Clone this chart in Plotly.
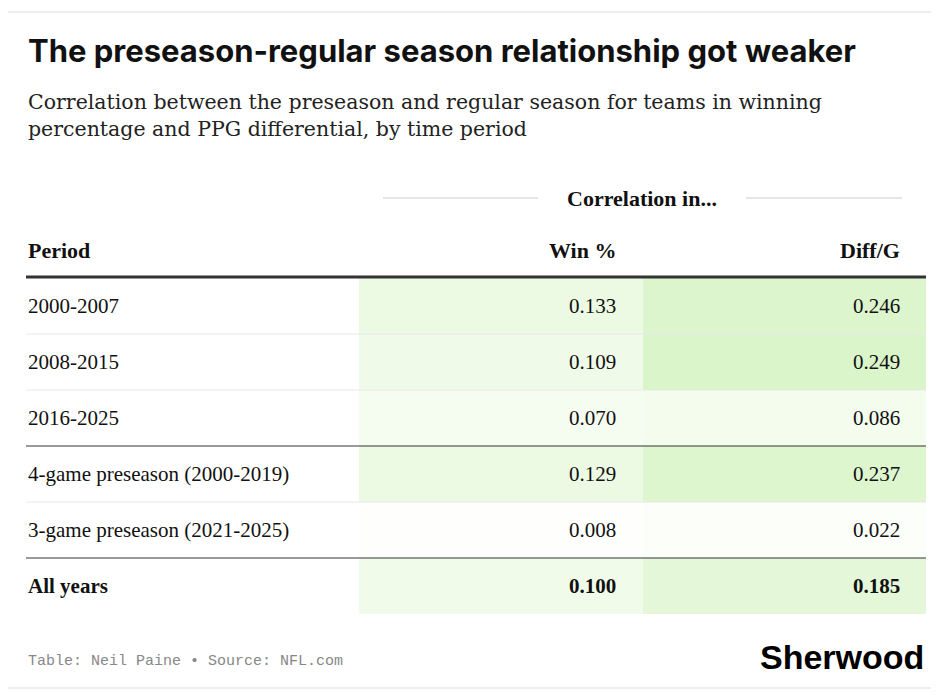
import plotly.graph_objects as go

periods = ["2000-2007", "2008-2015", "2016-2025",
           "4-game preseason (2000-2019)", "3-game preseason (2021-2025)", "All years"]
win_pct = [0.133, 0.109, 0.070, 0.129, 0.008, 0.100]
diff_g = [0.246, 0.249, 0.086, 0.237, 0.022, 0.185]
group_end = [2, 4]  # rows followed by a dark separator

W, H = 939, 695
top, rh = 278, 56
cols = [(359, 643, 618), (643, 926, 902)]
serif = "Liberation Serif"


def shade(v):
    f = min(v / 0.25, 1.0)
    r = round(255 - f * 36)
    g = round(255 - f * 10)
    b = round(255 - f * 52)
    return f"rgb({r},{g},{b})"


fig = go.Figure()
fig.add_trace(go.Scatter(x=[0], y=[0], mode="markers", marker=dict(opacity=0), hoverinfo="skip"))

shapes, ann = [], []
shapes.append(dict(type="rect", x0=6, x1=933, y0=12, y1=688, line=dict(color="#dddddd", width=1)))

for i, name in enumerate(periods):
    y0 = top + i * rh
    y1 = y0 + rh
    yc = (y0 + y1) / 2
    bold = i == len(periods) - 1
    for (x0, x1, xt), v in zip(cols, (win_pct[i], diff_g[i])):
        shapes.append(dict(type="rect", x0=x0, x1=x1, y0=y0, y1=y1,
                           fillcolor=shade(v), line=dict(width=0), layer="below"))
        ann.append(dict(x=xt, y=yc, text=f"<b>{v:.3f}</b>" if bold else f"{v:.3f}",
                        xanchor="right", showarrow=False,
                        font=dict(family=serif, size=21, color="#111")))
    ann.append(dict(x=26, y=yc, text=f"<b>{name}</b>" if bold else name, xanchor="left",
                    showarrow=False, font=dict(family=serif, size=21, color="#111")))
    if i < len(periods) - 1:
        dark = i in group_end
        shapes.append(dict(type="line", x0=26, x1=926, y0=y1, y1=y1,
                           line=dict(color="#333" if dark else "#e8e8e8", width=1)))

shapes.append(dict(type="line", x0=26, x1=926, y0=top - 1, y1=top - 1, line=dict(color="#333", width=3)))
shapes.append(dict(type="line", x0=383, x1=538, y0=198, y1=198, line=dict(color="#cccccc", width=1)))
shapes.append(dict(type="line", x0=746, x1=902, y0=198, y1=198, line=dict(color="#cccccc", width=1)))

hdr = dict(family=serif, size=22, color="#111")
ann += [
    dict(x=642, y=198, text="<b>Correlation in...</b>", showarrow=False, font=hdr),
    dict(x=26, y=250, text="<b>Period</b>", xanchor="left", showarrow=False, font=hdr),
    dict(x=618, y=250, text="<b>Win %</b>", xanchor="right", showarrow=False, font=hdr),
    dict(x=902, y=250, text="<b>Diff/G</b>", xanchor="right", showarrow=False, font=hdr),
    dict(x=26, y=50, text="<b>The preseason-regular season relationship got weaker</b>", xanchor="left",
         showarrow=False, font=dict(family="Inter", size=31, color="#111")),
    dict(x=26, y=115, text="Correlation between the preseason and regular season for teams in winning<br>"
                           "percentage and PPG differential, by time period",
         xanchor="left", align="left", showarrow=False,
         font=dict(family="DejaVu Serif", size=20.5, color="#222")),
    dict(x=26, y=661, text="Table: Neil Paine • Source: NFL.com", xanchor="left", showarrow=False,
         font=dict(family="Liberation Mono", size=15, color="#888")),
    dict(x=926, y=657, text="<b>Sherwood</b>", xanchor="right", showarrow=False,
         font=dict(family="Liberation Sans", size=34, color="#000")),
]

fig.update_layout(
    width=W, height=H, margin=dict(l=0, r=0, t=0, b=0),
    paper_bgcolor="white", plot_bgcolor="white", showlegend=False,
    xaxis=dict(range=[8, W + 8], visible=False, fixedrange=True),
    yaxis=dict(range=[H + 8, 8], visible=False, fixedrange=True),
    shapes=shapes, annotations=ann,
)
fig.write_html("out.html")
